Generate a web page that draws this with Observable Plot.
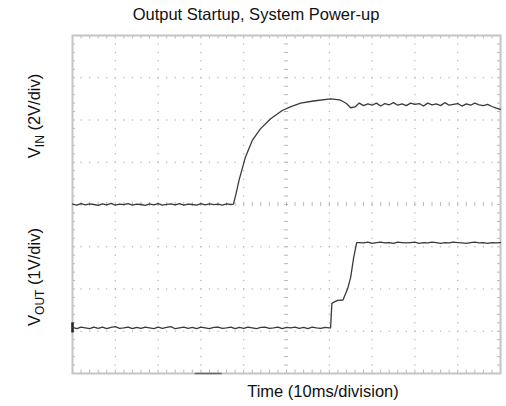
<!DOCTYPE html>
<html><head><meta charset="utf-8">
<script src="https://cdn.jsdelivr.net/npm/d3@7"></script>
<script src="https://cdn.jsdelivr.net/npm/@observablehq/plot@0.6"></script>
<style>body{margin:0;background:#fff;}</style>
</head><body><div id="chart"></div>
<script>
// Time axis in ms (10 ms per division, 10 divisions)
const vinTime = [0,1,2,3,4,5,6,7,8,9,10,11,12,13,14,15,16,17,18,19,20,21,22,23,24,25,26,27,28,29,30,31,32,33,34,35,36,37,
  37.6,38.2,38.9,40.4,42.0,43.9,46.3,49.0,50.9,53.3,56.3,60.3,62.4,
  63,64,65,66,67,68,69,70,71,72,73,74,75,76,77,78,79,80,81,82,83,84,85,86,87,88,89,90,91,92,93,94,95,96,97,98,99,100];
const vinVolts = [0.02,-0.03,0.04,-0.02,0.03,0.0,-0.04,0.03,-0.02,0.05,-0.03,0.02,-0.01,0.04,-0.03,0.02,0.0,-0.04,0.03,-0.02,0.04,-0.03,0.01,0.03,-0.02,0.04,-0.03,0.02,0.0,-0.03,0.04,-0.02,0.03,-0.01,0.02,-0.03,0.03,0.0,
  0.02,0.5,1.14,2.24,3.03,3.58,4.06,4.45,4.62,4.8,4.9,5.0,4.95,
  4.90,4.78,4.58,4.62,4.80,4.68,4.76,4.70,4.80,4.66,4.78,4.72,4.82,4.70,4.76,4.68,4.80,4.74,4.78,4.66,4.80,4.72,4.76,4.68,4.82,4.70,4.74,4.78,4.66,4.76,4.70,4.80,4.72,4.68,4.74,4.64,4.56,4.50];
const voutTime = [0,1,2,3,4,5,6,7,8,9,10,11,12,13,14,15,16,17,18,19,20,21,22,23,24,25,26,27,28,29,30,31,32,33,34,35,36,37,38,39,40,41,42,43,44,45,46,47,48,49,50,51,52,53,54,55,56,57,58,59,60,
  60.3,60.6,61.3,62.0,63.2,64.3,65.0,65.7,66.4,
  67,68,69,70,71,72,73,74,75,76,77,78,79,80,81,82,83,84,85,86,87,88,89,90,91,92,93,94,95,96,97,98,99,100];
const voutVolts = [0.01,-0.02,0.02,0.0,-0.02,0.02,-0.01,0.02,-0.02,0.01,0.03,-0.01,0.0,0.02,-0.02,0.01,-0.01,0.02,0.0,-0.02,0.02,-0.01,0.01,0.03,-0.02,0.0,0.02,-0.01,0.01,-0.02,0.02,0.0,-0.02,0.01,0.02,-0.01,0.0,0.02,-0.02,0.01,-0.01,0.02,0.0,-0.02,0.01,0.02,-0.01,0.0,0.02,-0.02,0.01,0.0,0.02,-0.01,0.01,-0.02,0.02,0.0,-0.01,0.01,0.0,
  0.0,0.58,0.62,0.65,0.66,0.93,1.2,1.67,2.02,
  2.02,2.01,2.03,2.0,2.02,2.03,2.01,2.02,2.0,2.03,2.02,2.01,2.02,2.03,2.0,2.02,2.01,2.03,2.02,2.0,2.02,2.01,2.03,2.02,2.01,2.0,2.02,2.03,2.01,2.02,2.0,2.02,2.01,2.02];

// Channel settings (divisions from bottom of screen)
const vinZeroDiv = 4, vinVoltsPerDiv = 2;
const voutZeroDiv = 1.08, voutVoltsPerDiv = 1;
const bottomMarker = [{x1: 28.7, x2: 35}];

const titleText = "Output Startup, System Power-up";
const xLabelText = "Time (10ms/division)";

const vin = vinTime.map((t, i) => ({t, d: vinZeroDiv + vinVolts[i] / vinVoltsPerDiv}));
const vout = voutTime.map((t, i) => ({t, d: voutZeroDiv + voutVolts[i] / voutVoltsPerDiv}));

// graticule helpers
const minorX = d3.range(0, 100.001, 2);
const minorY = d3.range(0, 8.001, 0.2).map(v => +v.toFixed(2));
const gridDots = [];
for (const gx of [10,20,30,40,60,70,80,90]) for (const gy of minorY) gridDots.push({x: gx, y: gy});
for (const gy of [1,2,3,5,6,7]) for (const gx of minorX) gridDots.push({x: gx, y: gy});

const gc = "#b8b8b8";
const plot = Plot.plot({
  width: 506, height: 406,
  marginLeft: 72, marginRight: 6, marginTop: 35, marginBottom: 33,
  x: {domain: [0, 100], axis: null},
  y: {domain: [0, 8], axis: null},
  marks: [
    Plot.dot(gridDots, {x: "x", y: "y", r: 0.75, fill: gc, stroke: null}),
    Plot.ruleX(minorX, {y1: 0, y2: 0.08, stroke: gc}),
    Plot.ruleX(minorX, {y1: 7.92, y2: 8, stroke: gc}),
    Plot.ruleY(minorY, {x1: 0, x2: 0.7, stroke: gc}),
    Plot.ruleY(minorY, {x1: 99.3, x2: 100, stroke: gc}),
    Plot.ruleX(minorX, {y1: 3.95, y2: 4.05, stroke: gc}),
    Plot.ruleY(minorY, {x1: 49.5, x2: 50.5, stroke: gc}),
    Plot.frame({stroke: "#c4c4c4", strokeWidth: 2}),
    Plot.ruleY(bottomMarker, {y: 0, x1: "x1", x2: "x2", stroke: "#666", strokeWidth: 1.5}),
    Plot.ruleX([0], {y1: voutZeroDiv - 0.12, y2: voutZeroDiv + 0.12, stroke: "#222", strokeWidth: 2.5}),
    Plot.line(vin, {x: "t", y: "d", stroke: "#3a3a3a", strokeWidth: 1.3}),
    Plot.line(vout, {x: "t", y: "d", stroke: "#3a3a3a", strokeWidth: 1.3})
  ]
});
document.getElementById("chart").appendChild(plot);

const svg = d3.select(plot);
const font = "'Liberation Sans', Arial, sans-serif";
const fs = 16.5;
svg.append("text").attr("x", 256).attr("y", 20).attr("text-anchor", "middle")
  .attr("font-family", font).attr("font-size", fs).attr("fill", "#111").text(titleText);
svg.append("text").attr("x", 323).attr("y", 397).attr("text-anchor", "middle")
  .attr("font-family", font).attr("font-size", fs).attr("fill", "#111").text(xLabelText);

function yLabel(cy, main, sub, rest) {
  const t = svg.append("text").attr("transform", `translate(40,${cy}) rotate(-90)`)
    .attr("text-anchor", "middle").attr("font-family", font).attr("font-size", fs).attr("fill", "#111");
  t.append("tspan").text(main);
  t.append("tspan").attr("dy", 4).attr("font-size", 12).text(sub);
  t.append("tspan").attr("dy", -4).text(rest);
}
yLabel(116, "V", "IN", " (2V/div)");
yLabel(277, "V", "OUT", " (1V/div)");
</script>
</body></html>
